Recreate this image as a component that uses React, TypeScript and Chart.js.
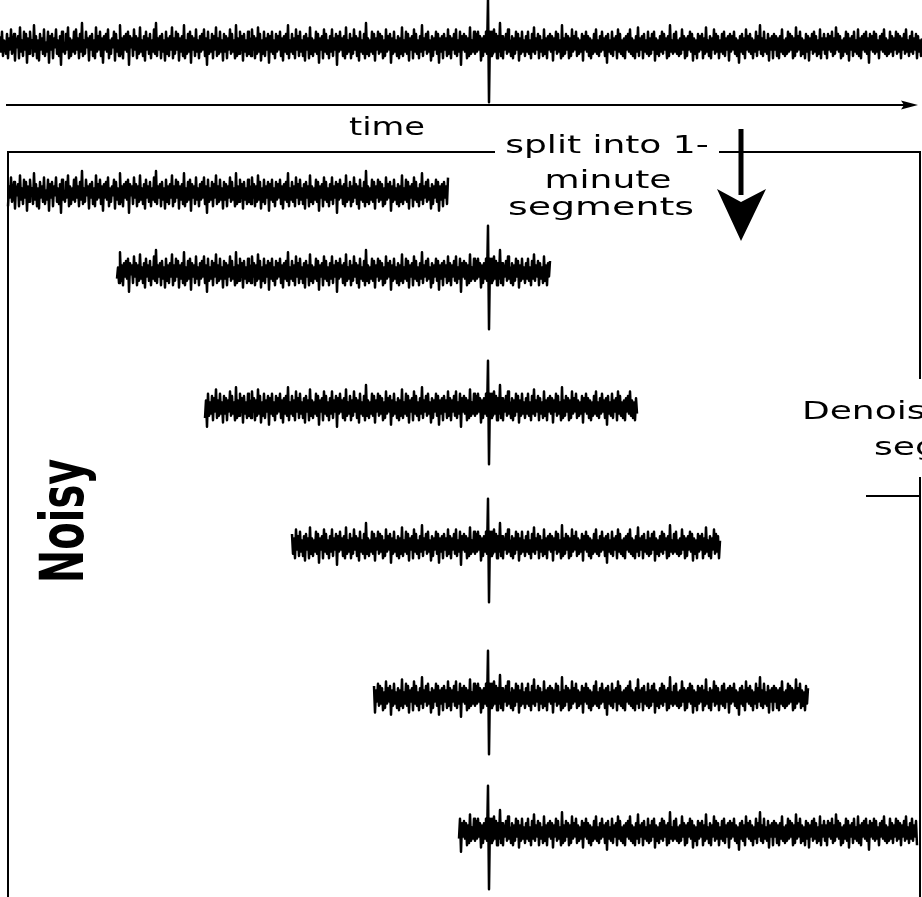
import { useEffect, useRef } from "react";
import { Chart, registerables } from "chart.js";

Chart.register(...registerables);

// Continuous noisy recording (amplitude per sample); the event is at sample 488
const NOISE: number[] = [
  4, -3, 6, -5, 2, 1, -4, 5, -6, 3, -2, 7, -4, 0, 5, -7, 3, -1, 4, -6, 8, -3, 2, -5, 6,
  -2, 5, -8, 3, -4, 6, -1, 2, -5, 9, -3, 4, -6, 2, -7, 5, -2, 3, -4, 7, -5, 1, -3, 6, -8,
  4, -2, 5, -6, 3, -1, 7, -4, 2, -5, 4, -9, 6, -3, 1, -4, 5, -2, 8, -6, 3, -5, 2, -3, 6,
  -4, 7, -2, 3, -6, 5, -3, 10, -5, 2, -4, 6, -1, 3, -7, 4, -2, 5, -5, 2, -6, 8, -3, 4, -2,
  6, -5, 3, -8, 4, -2, 5, -3, 7, -6, 2, -4, 3, -1, 6, -7, 5, -3, 2, -5, 9, -4, 3, -6, 4,
  -2, 5, -3, 6, -9, 4, -1, 3, -5, 7, -2, 4, -6, 3, -4, 8, -3, 2, -5, 4, -7, 6, -2, 3, -4,
  5, -6, 2, -3, 7, -4, 10, -5, 3, -2, 4, -6, 5, -3, 2, -7, 6, -4, 3, -5, 4, -2, 8, -6, 3,
  -4, 6, -2, 5, -7, 3, -3, 4, -5, 9, -6, 2, -4, 5, -3, 6, -8, 4, -2, 3, -5, 7, -3, 2, -6,
  4, -3, 5, -2, 7, -5, 3, -9, 6, -4, 2, -3, 5, -6, 4, -2, 8, -5, 3, -4, 6, -3, 2, -7, 5,
  -3, 4, -6, 3, -2, 7, -4, 5, -3, 2, -6, 9, -5, 3, -4, 6, -2, 4, -7, 5, -3, 2, -5, 6, -4,
  3, -5, 7, -2, 4, -6, 3, -4, 8, -3, 5, -7, 2, -4, 6, -5, 3, -2, 5, -8, 4, -3, 6, -4, 2,
  -6, 5, -3, 4, -2, 6, -5, 3, -7, 4, -3, 5, -4, 9, -6, 2, -3, 5, -4, 3, -6, 7, -2, 4, -5,
  6, -3, 2, -5, 4, -7, 5, -2, 3, -6, 8, -4, 3, -5, 2, -3, 6, -4, 5, -8, 3, -2, 4, -6, 7,
  -3, 5, -4, 2, -6, 4, -3, 7, -5, 3, -2, 5, -9, 4, -3, 6, -2, 3, -5, 4, -6, 8, -4, 2, -3,
  5, -6, 3, -4, 7, -2, 4, -5, 3, -7, 6, -3, 2, -4, 5, -6, 10, -4, 3, -5, 2, -3, 6, -4, 5,
  -7, 3, -2, 6, -4, 5, -3, 4, -6, 2, -5, 7, -3, 4, -2, 5, -8, 3, -4, 6, -3, 2, -5, 4, -6,
  3, -4, 8, -5, 2, -3, 6, -4, 5, -7, 3, -2, 4, -6, 7, -3, 5, -4, 2, -6, 4, -3, 9, -5, 3,
  -2, 5, -4, 6, -3, 2, -7, 4, -5, 3, -2, 6, -4, 5, -8, 3, -3, 4, -6, 5, -2, 3, -5, 7, -4,
  4, -6, 3, -2, 5, -4, 7, -5, 2, -3, 6, -9, 4, -2, 5, -3, 4, -6, 3, -5, 8, -4, 2, -3, 6,
  -4, 5, -3, 6, -2, 4, -7, 3, -5, 4, -3, 6, -4, 21, -26, 6, -5, 6, -4, 7, -3, 5, -6, 4, -3,
  10, -5, 4, -6, 3, -2, 5, -4, 7, -3, 2, -5, 4, -6, 3, -4, 6, -2, 5, -7, 3, -4, 6, -3, 2,
  -5, 4, -3, 6, -4, 2, -6, 5, -3, 8, -4, 3, -2, 5, -6, 4, -3, 2, -5, 7, -4, 3, -6, 4, -2,
  5, -3, 4, -7, 3, -2, 6, -4, 5, -3, 2, -6, 9, -5, 3, -4, 5, -2, 4, -6, 3, -5, 7, -3, 4,
  -2, 6, -5, 3, -4, 2, -3, 5, -7, 4, -2, 6, -3, 4, -5, 3, -6, 2, -4, 5, -3, 7, -4, 2, -5,
  4, -3, 6, -2, 3, -5, 4, -8, 5, -3, 2, -4, 6, -5, 3, -2, 4, -6, 7, -3, 5, -4, 2, -5, 3,
  -6, 4, -2, 5, -3, 7, -4, 3, -5, 2, -6, 4, -3, 8, -5, 3, -2, 4, -6, 5, -3, 2, -4, 6, -5,
  3, -4, 5, -2, 6, -7, 3, -4, 2, -5, 4, -3, 6, -4, 5, -2, 3, -6, 4, -5, 9, -3, 2, -4, 5,
  -3, 6, -4, 2, -5, 3, -4, 7, -2, 4, -6, 3, -5, 4, -2, 6, -3, 5, -7, 3, -4, 2, -6, 5, -3,
  4, -2, 5, -6, 3, -4, 8, -3, 2, -5, 4, -6, 3, -2, 7, -4, 5, -3, 4, -6, 2, -3, 5, -4, 6,
  -5, 3, -2, 4, -7, 5, -3, 4, -2, 6, -4, 3, -5, 2, -8, 4, -3, 5, -4, 3, -6, 7, -2, 4, -3,
  5, -4, 3, -6, 2, -3, 6, -5, 4, -2, 9, -4, 3, -5, 6, -3, 2, -4, 5, -7, 3, -2, 4, -6, 5,
  -2, 4, -5, 3, -6, 4, -3, 7, -4, 2, -5, 3, -4, 6, -3, 5, -2, 4, -6, 3, -5, 8, -3, 4, -2,
  6, -5, 3, -4, 2, -6, 5, -3, 4, -7, 3, -2, 5, -4, 6, -3, 4, -5, 2, -4, 7, -6, 3, -2, 5,
  -4, 3, -6, 5, -2, 4, -3, 6, -5, 3, -4, 8, -2, 5, -3, 4, -6, 2, -5, 3, -3, 6, -4, 5, -7,
  3, -2, 4, -5, 6, -3, 2, -4, 7, -5, 3, -6, 4, -2, 5, -3, 6, -4, 3, -8, 5, -2, 4, -3, 6,
  -4, 5, -3, 2, -6, 4, -2, 5, -3, 7, -4, 3, -5, 2, -4, 6, -3, 4, -5, 3, -2, 6, -4, 5, -3,
  4, -6, 3, -2, 5, -4, 7, -3, 2, -5, 4, -3, 6, -4, 3, -2, 5, -6, 4, -3, 2, -5, 3, -4, 5,
];

// 1-minute segments: first and last sample index of each window
const SEG_START: number[] = [8, 117, 205, 292, 374, 459];
const SEG_END: number[] = [448, 550, 637, 720, 808, 917];

// Layout (pixel rows of each trace's zero line)
const W = 922;
const H = 897;
const X_MAX = 922;
const GAIN = 2.2;
const TOP_ROW = 45;
const SEG_ROWS: number[] = [193, 272, 407, 545, 697, 832];

const FONT = '"DejaVu Sans", sans-serif';

function stretchedText(
  ctx: CanvasRenderingContext2D,
  text: string,
  x: number,
  y: number,
  align: CanvasTextAlign,
  font: string,
  k = 1.5
) {
  ctx.save();
  ctx.translate(x, y);
  ctx.scale(k, 1);
  ctx.font = font;
  ctx.textAlign = align;
  ctx.textBaseline = "alphabetic";
  ctx.fillText(text, 0, 0);
  ctx.restore();
}

const overlay = {
  id: "overlay",
  afterDraw(chart: any) {
    const ctx: CanvasRenderingContext2D = chart.ctx;
    ctx.save();
    ctx.strokeStyle = "#000";
    ctx.fillStyle = "#000";
    ctx.lineWidth = 2;
    ctx.lineCap = "butt";

    // frame around segments
    ctx.beginPath();
    ctx.moveTo(8, H + 2);
    ctx.lineTo(8, 152);
    ctx.lineTo(920, 152);
    ctx.lineTo(920, H + 2);
    ctx.moveTo(866, 496);
    ctx.lineTo(920, 496);
    ctx.stroke();

    // time arrow
    ctx.beginPath();
    ctx.moveTo(6, 105);
    ctx.lineTo(906, 105);
    ctx.stroke();
    ctx.beginPath();
    ctx.moveTo(918, 105);
    ctx.lineTo(901, 100.5);
    ctx.lineTo(904, 105);
    ctx.lineTo(901, 109.5);
    ctx.closePath();
    ctx.fill();

    // white boxes behind labels
    ctx.fillStyle = "#fff";
    ctx.fillRect(495, 128, 224, 104);
    ctx.fillRect(797, 379, 130, 98);

    // labels
    ctx.fillStyle = "#000";
    const f = `24px ${FONT}`;
    stretchedText(ctx, "time", 387, 135, "center", f, 1.4);
    stretchedText(ctx, "split into 1-", 607, 153, "center", f);
    stretchedText(ctx, "minute", 608, 188, "center", f);
    stretchedText(ctx, "segments", 601, 215, "center", f, 1.58);
    stretchedText(ctx, "Denoise each", 802, 419, "left", f);
    stretchedText(ctx, "segment", 874, 455, "left", f);

    // big down arrow
    ctx.fillRect(738.5, 129, 5, 66);
    ctx.beginPath();
    ctx.moveTo(717, 189);
    ctx.lineTo(741, 241);
    ctx.lineTo(766, 189);
    ctx.lineTo(741, 202);
    ctx.closePath();
    ctx.fill();

    // Noisy label (rotated)
    ctx.save();
    ctx.translate(83, 521);
    ctx.scale(1.5, 1);
    ctx.rotate(-Math.PI / 2);
    ctx.font = `bold 40px ${FONT}`;
    ctx.textAlign = "center";
    ctx.textBaseline = "alphabetic";
    ctx.fillText("Noisy", 0, 0);
    ctx.restore();

    ctx.restore();
  },
};

function rowAxis(row: number) {
  return {
    type: "linear" as const,
    display: false,
    min: (row - H) / GAIN,
    max: row / GAIN,
  };
}

const LINE_STYLE = {
  borderColor: "#000",
  borderWidth: 2.5,
  borderJoinStyle: "round" as const,
  borderCapStyle: "butt" as const,
  pointRadius: 0,
  tension: 0,
};

export default function App() {
  const ref = useRef<HTMLCanvasElement | null>(null);

  useEffect(() => {
    document.body.style.margin = "0";
    if (!ref.current) return;

    const full = NOISE.map((v, i) => ({ x: i, y: v }));
    const datasets: any[] = [{ data: full, yAxisID: "yTop", ...LINE_STYLE }];
    const scales: any = {
      x: { type: "linear", display: false, min: 0, max: X_MAX },
      yTop: rowAxis(TOP_ROW),
    };
    SEG_START.forEach((s, k) => {
      const id = `yS${k}`;
      scales[id] = rowAxis(SEG_ROWS[k]);
      datasets.push({
        data: full.slice(s, SEG_END[k] + 1),
        yAxisID: id,
        ...LINE_STYLE,
      });
    });

    const chart = new Chart(ref.current, {
      type: "line",
      data: { datasets },
      options: {
        animation: false,
        responsive: false,
        maintainAspectRatio: false,
        layout: { padding: 0 },
        scales,
        plugins: {
          legend: { display: false },
          tooltip: { enabled: false },
          title: { display: false },
        },
      },
      plugins: [overlay],
    });
    return () => chart.destroy();
  }, []);

  return (
    <div style={{ width: W, height: H, background: "#fff" }}>
      <canvas ref={ref} width={W} height={H} style={{ display: "block" }} />
    </div>
  );
}
